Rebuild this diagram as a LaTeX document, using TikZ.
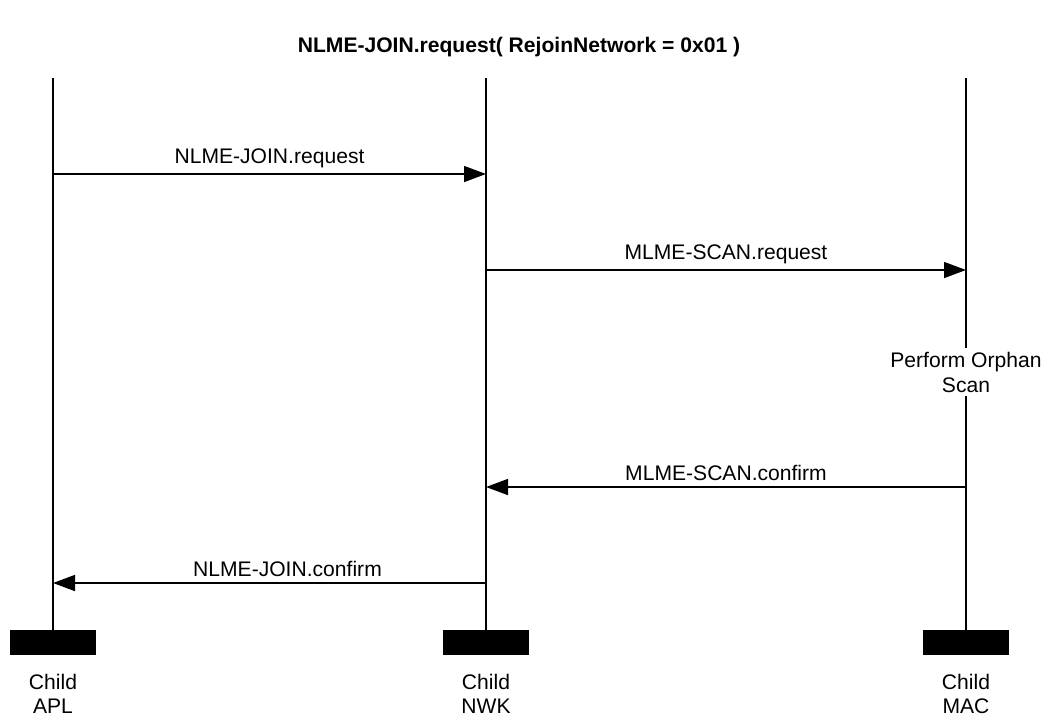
\documentclass[tikz,border=0pt]{standalone}
\usepackage{fontspec}
\setmainfont{Liberation Sans}
\usetikzlibrary{arrows.meta,positioning}
\tikzset{
  >={Triangle[length=4.4mm,width=3.2mm]},
  lifeline/.style={line width=0.9pt},
  actorbar/.style={fill=black,minimum width=17.2mm,minimum height=5mm,inner sep=0pt},
  actorlbl/.style={align=center,font=\fontsize{12}{13.6}\selectfont,inner sep=0pt},
  msg/.style={->,line width=0.9pt},
  msglbl/.style={font=\fontsize{12}{14}\selectfont,inner sep=2pt},
  steplbl/.style={align=center,fill=white,font=\fontsize{12}{14.2}\selectfont,inner sep=2pt},
  titlelbl/.style={font=\bfseries\fontsize{12}{14}\selectfont},
}

\begin{document}
\begin{tikzpicture}[x=0.2mm,y=-0.2mm]
  \useasboundingbox (0,0) rectangle (1042,719);
  \node[titlelbl] (title) at (519,47) {NLME-JOIN.request( RejoinNetwork = 0x01 )};
  % ---- lifelines ----
  \foreach \x/\n/\id/\ly in {53/APL/apl/694,486/NWK/nwk/694,966/MAC/mac/694} {
    \coordinate (\id top) at (\x,78);
    \node[actorbar] (\id bar) at (\x,642.5) {};
    \node[actorlbl] (\id lbl) at (\x,\ly) {Child\\\n};
    \draw[lifeline] (\id top) -- (\id bar);
  }
  % ---- orphan scan step on the MAC line ----
  \node[steplbl] (scan) at (966,372) {Perform Orphan\\Scan};
  % ---- message end points ----
  \coordinate (m1a) at (53,174);  \coordinate (m1b) at (486,174);
  \coordinate (m2a) at (486,270); \coordinate (m2b) at (966,270);
  \coordinate (m3a) at (966,487); \coordinate (m3b) at (486,487);
  \coordinate (m4a) at (486,583); \coordinate (m4b) at (53,583);
  % ---- messages ----
  \draw[msg] (m1a) -- node[msglbl,above=1pt] (l1) {NLME-JOIN.request} (m1b);
  \draw[msg] (m2a) -- node[msglbl,above=1pt] (l2) {MLME-SCAN.request} (m2b);
  \draw[msg] (m3a) -- node[msglbl,above=1pt] (l3) {MLME-SCAN.confirm} (m3b);
  \draw[msg] (m4a) -- node[msglbl,above=1pt,xshift=3.6mm] (l4) {NLME-JOIN.confirm} (m4b);
\end{tikzpicture}
\end{document}
